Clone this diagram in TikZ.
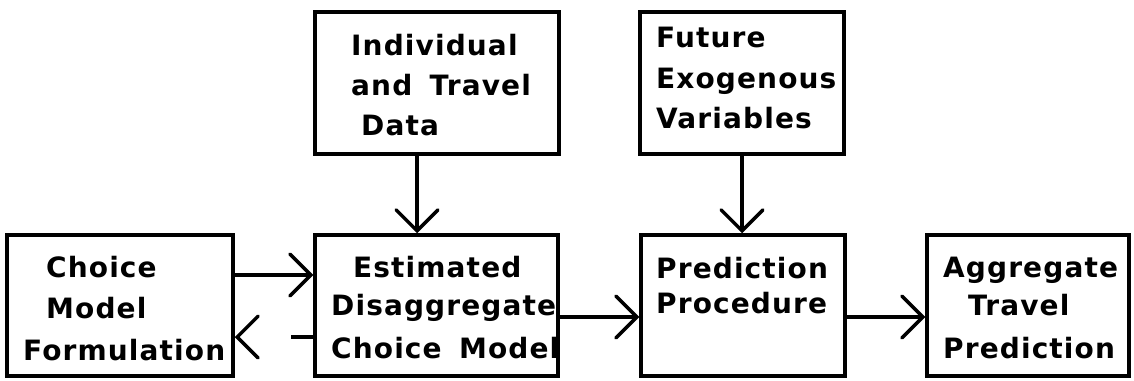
\documentclass[tikz,border=0pt]{standalone}
\usepackage{fontspec}
\newfontfamily\plotfont[LetterSpace=4,WordSpace=1.6]{DejaVu Sans}
\usetikzlibrary{arrows.meta}
\tikzset{
  box/.style={draw, line width=3.5pt, inner sep=0pt},
  txt/.style={anchor=base west, inner sep=0pt, font=\plotfont\bfseries\fontsize{28}{34}\selectfont},
  conn/.style={line width=3.5pt, -{Straight Barb[length=21pt,width=42pt,line cap=round]}},
}
\begin{document}
\begin{tikzpicture}[x=1pt,y=-1pt]
\useasboundingbox (0,0) rectangle (1134,380);
% boxes
\node[box, minimum width=226pt, minimum height=141pt] (choice) at (120,305.5) {};
\node[box, minimum width=243pt, minimum height=141pt] (est) at (436.5,305.5) {};
\node[box, minimum width=244pt, minimum height=142pt] (indiv) at (437,83) {};
\node[box, minimum width=204pt, minimum height=142pt] (future) at (742,83) {};
\node[box, minimum width=204pt, minimum height=141pt] (pred) at (743,305.5) {};
\node[box, minimum width=202pt, minimum height=141pt] (aggr) at (1028,305.5) {};
% texts
\node[txt] (i1) at (351,55) {Individual};
\node[txt] (i2) at (351,95) {and Travel};
\node[txt] (i3) at (361,135) {Data};
\node[txt] (f1) at (656,47) {Future};
\node[txt] (f2) at (656,88) {Exogenous};
\node[txt] (f3) at (656,128) {Variables};
\node[txt] (c1) at (46,277) {Choice};
\node[txt] (c2) at (46,318) {Model};
\node[txt] (c3) at (23,360) {Formulation};
\node[txt] (e1) at (353,277) {Estimated};
\node[txt] (e2) at (331,315) {Disaggregate};
\node[txt] (e3) at (331,358) {Choice Model};
\node[txt] (p1) at (656,278) {Prediction};
\node[txt] (p2) at (656,313) {Procedure};
\node[txt] (a1) at (943,277) {Aggregate};
\node[txt] (a2) at (968,315) {Travel};
\node[txt] (a3) at (943,358) {Prediction};
% connectors
\draw[conn] ([xshift=-20pt]indiv.south) -- ([xshift=-20pt]indiv.south |- est.north);
\draw[conn] (future.south) -- (future.south |- pred.north);
\draw[conn] ([yshift=30.5pt]choice.east) -- ([yshift=30.5pt]choice.east -| est.west);
\draw[conn, dash pattern=on 22pt off 200pt] ([yshift=-31.5pt]est.west) -- ([yshift=-31.5pt]est.west -| choice.east);
\draw[conn] ([yshift=-11.5pt]est.east) -- ([yshift=-11.5pt]est.east -| pred.west);
\draw[conn] ([yshift=-11.5pt]pred.east) -- ([yshift=-11.5pt]pred.east -| aggr.west);
\end{tikzpicture}
\end{document}
